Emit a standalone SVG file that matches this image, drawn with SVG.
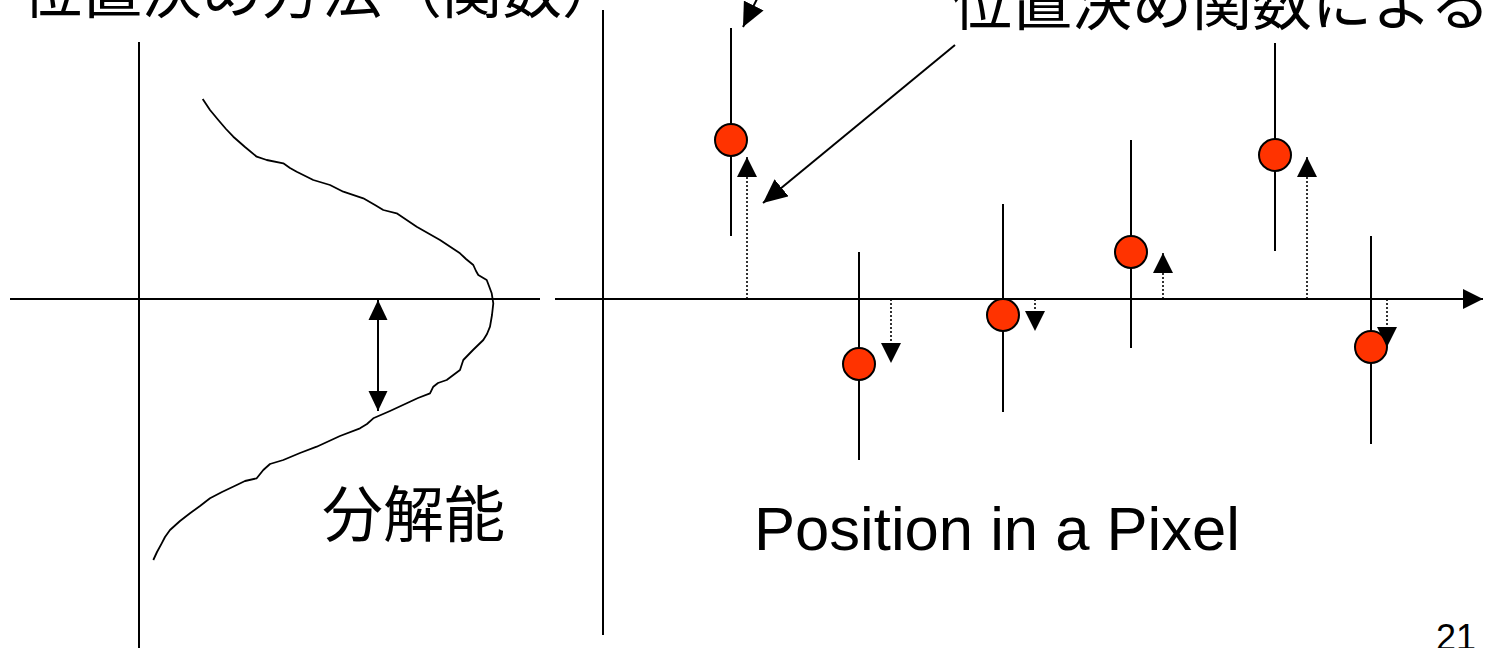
<svg xmlns="http://www.w3.org/2000/svg" width="1497" height="648" viewBox="0 0 1497 648">
<style>
.ax{stroke:#000;stroke-width:2;fill:none}
.bar{stroke:#000;stroke-width:2;fill:none}
.pt{fill:#FF3300;stroke:#000;stroke-width:2}
.dot{stroke:#000;stroke-width:1.6;stroke-dasharray:2 2;fill:none}
.ptr{stroke:#000;stroke-width:2;fill:none}
.cjk{font-family:"Noto Sans CJK JP","Noto Sans CJK SC",sans-serif;font-size:60px;fill:#000}
.lat{font-family:"Liberation Sans",Arial,sans-serif;fill:#000}
</style>
<defs>
<marker id="tri" markerUnits="userSpaceOnUse" markerWidth="20" markerHeight="20" viewBox="0 0 20 20" refX="20" refY="10" orient="auto">
<path d="M0,0 L20,10 L0,20 z" fill="#000"/>
</marker>
<marker id="triS" markerUnits="userSpaceOnUse" markerWidth="20" markerHeight="20" viewBox="0 0 20 20" refX="20" refY="10" orient="auto-start-reverse">
<path d="M0,0.5 L20,10 L0,19.5 z" fill="#000"/>
</marker>
<marker id="ptrHead" markerUnits="userSpaceOnUse" markerWidth="24" markerHeight="22" viewBox="0 0 24 22" refX="24" refY="11" orient="auto">
<path d="M0,0 L24,11 L0,22 z" fill="#000"/>
</marker>
</defs>

<g id="titles">
<text class="cjk" x="22" y="13">位置決め方法（関数）</text>
<text class="cjk" x="952" y="25">位置決め関数による</text>
</g>

<g id="left-panel">
<line class="ax" x1="139" y1="42" x2="139" y2="648"/>
<line class="ax" x1="10" y1="299" x2="540" y2="299"/>
<path id="curve" d="M202.7,99 L210,110 L218.3,120 L226,129 L233.3,136.7 L245,147 L256.7,156.7 L266.7,160 L283.3,163.3 L290,168 L296.7,171.7 L313.3,180 L330,185 L343.3,191.7 L363.3,198.3 L375,205 L383.3,210 L396.7,213.3 L416.7,226.7 L440,240 L460,253.3 L466,259 L473.3,265 L476,271 L478.3,275 L486.7,280 L489,286 L491.7,293.3 L493.3,303.3 L492,315 L490,326.7 L487,334 L483.3,340 L473,350 L463.3,360 L460,370 L452,376 L446.7,380 L438,383 L433.3,386.7 L430,393.3 L418,398 L406.7,403.3 L390,411 L373.3,418.3 L367,424 L360,428.3 L340,436 L316.7,446.7 L300,453 L283.3,460 L270,464 L263.3,470 L256.7,478.3 L245,481 L236.7,485 L222,492 L210,498.3 L200,506 L190,513.3 L180,521 L170,530 L165,537 L161.7,543.3 L157,552 L153.3,560" fill="none" stroke="#000" stroke-width="1.8" stroke-linejoin="round"/>
<line id="resolution" class="ax" x1="378" y1="300" x2="378" y2="411" marker-start="url(#triS)" marker-end="url(#triS)"/>
<text class="cjk" x="322" y="537" style="font-size:61px">分解能</text>
</g>

<g id="right-panel">
<line class="ax" x1="603" y1="10" x2="603" y2="635"/>
<line class="ax" x1="555" y1="299" x2="1483" y2="299" marker-end="url(#tri)"/>
<text class="lat" x="754" y="550" font-size="62" textLength="486" lengthAdjust="spacingAndGlyphs">Position in a Pixel</text>
</g>

<g id="p1"><line class="bar" x1="731" y1="28" x2="731" y2="236"/><circle class="pt" cx="731" cy="140" r="16"/></g>
<g id="p2"><line class="bar" x1="859" y1="252" x2="859" y2="460"/><circle class="pt" cx="859" cy="364" r="16"/></g>
<g id="p3"><line class="bar" x1="1003" y1="204" x2="1003" y2="412"/><circle class="pt" cx="1003" cy="315" r="16"/></g>
<g id="p4"><line class="bar" x1="1131" y1="140" x2="1131" y2="348"/><circle class="pt" cx="1131" cy="252" r="16"/></g>
<g id="p5"><line class="bar" x1="1275" y1="43" x2="1275" y2="251"/><circle class="pt" cx="1275" cy="155" r="16"/></g>
<g id="p6"><line class="bar" x1="1371" y1="236" x2="1371" y2="444"/><circle class="pt" cx="1371" cy="347" r="16"/></g>

<g id="connectors">
<line class="dot" x1="747" y1="299" x2="747" y2="157" marker-end="url(#tri)"/>
<line class="dot" x1="891" y1="299" x2="891" y2="363" marker-end="url(#tri)"/>
<line class="dot" x1="1035" y1="299" x2="1035" y2="331" marker-end="url(#tri)"/>
<line class="dot" x1="1163" y1="299" x2="1163" y2="253" marker-end="url(#tri)"/>
<line class="dot" x1="1307" y1="299" x2="1307" y2="157" marker-end="url(#tri)"/>
<line class="dot" x1="1387" y1="299" x2="1387" y2="347" marker-end="url(#tri)"/>
<line class="ptr" x1="955" y1="45" x2="763" y2="203" marker-end="url(#ptrHead)"/>
<line class="ptr" x1="758" y1="-3" x2="743" y2="27" marker-end="url(#ptrHead)"/>
</g>

<text class="lat" x="1436" y="650" font-size="36">21</text>
</svg>
